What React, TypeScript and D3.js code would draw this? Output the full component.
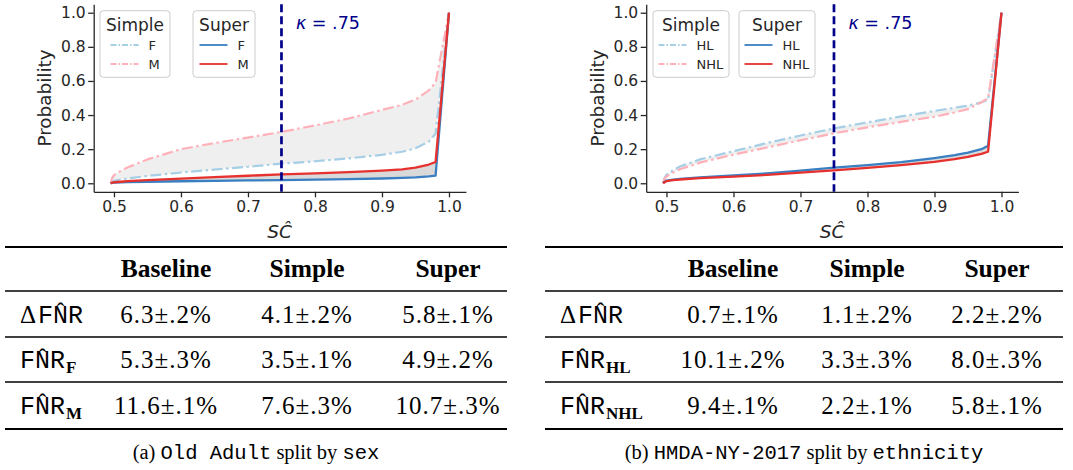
import React, { useEffect, useRef } from "react";
import * as d3 from "d3";

// ---------- data ----------
const SC_POINTS = [0.495, 0.497, 0.5, 0.51, 0.52, 0.55, 0.6, 0.65, 0.7, 0.75, 0.8, 0.85, 0.9, 0.93, 0.95, 0.97, 0.98, 1.0];
const X_TICKS = [0.5, 0.6, 0.7, 0.8, 0.9, 1.0];
const Y_TICKS = [0, 0.2, 0.4, 0.6, 0.8, 1.0];
const KAPPA = 0.75;

const ADULT_SIMPLE_F = [0, 0.008, 0.015, 0.022, 0.028, 0.043, 0.063, 0.08, 0.097, 0.115, 0.129, 0.146, 0.167, 0.185, 0.205, 0.245, 0.29, 1.0];
const ADULT_SIMPLE_M = [0, 0.028, 0.048, 0.072, 0.092, 0.14, 0.2, 0.236, 0.268, 0.301, 0.339, 0.38, 0.43, 0.46, 0.49, 0.545, 0.59, 1.0];
const ADULT_SUPER_F = [0, 0.002, 0.004, 0.006, 0.007, 0.009, 0.012, 0.014, 0.017, 0.019, 0.021, 0.024, 0.028, 0.032, 0.035, 0.041, 0.045, 1.0];
const ADULT_SUPER_M = [0, 0.003, 0.006, 0.009, 0.012, 0.018, 0.027, 0.036, 0.044, 0.052, 0.058, 0.065, 0.074, 0.082, 0.092, 0.11, 0.125, 1.0];

const HMDA_SIMPLE_HL = [0, 0.03, 0.05, 0.077, 0.098, 0.14, 0.188, 0.236, 0.28, 0.322, 0.357, 0.392, 0.424, 0.443, 0.455, 0.475, 0.488, 1.0];
const HMDA_SIMPLE_NHL = [0, 0.025, 0.04, 0.063, 0.082, 0.121, 0.168, 0.21, 0.252, 0.293, 0.328, 0.36, 0.39, 0.415, 0.435, 0.475, 0.5, 1.0];
const HMDA_SUPER_HL = [0, 0.008, 0.016, 0.022, 0.026, 0.035, 0.046, 0.058, 0.074, 0.092, 0.107, 0.124, 0.148, 0.165, 0.18, 0.2, 0.22, 1.0];
const HMDA_SUPER_NHL = [0, 0.006, 0.012, 0.018, 0.022, 0.03, 0.039, 0.049, 0.062, 0.076, 0.09, 0.106, 0.126, 0.141, 0.155, 0.172, 0.185, 1.0];

const ADULT_GROUPS = ["F", "M"];
const HMDA_GROUPS = ["HL", "NHL"];
const LEGEND_TITLES = ["Simple", "Super"];

const TABLE_COLUMNS = ["Baseline", "Simple", "Super"];
const ADULT_DELTA = ["6.3\u00b1.2%", "4.1\u00b1.2%", "5.8\u00b1.1%"];
const ADULT_FNR_F = ["5.3\u00b1.3%", "3.5\u00b1.1%", "4.9\u00b1.2%"];
const ADULT_FNR_M = ["11.6\u00b1.1%", "7.6\u00b1.3%", "10.7\u00b1.3%"];
const HMDA_DELTA = ["0.7\u00b1.1%", "1.1\u00b1.2%", "2.2\u00b1.2%"];
const HMDA_FNR_HL = ["10.1\u00b1.2%", "3.3\u00b1.3%", "8.0\u00b1.3%"];
const HMDA_FNR_NHL = ["9.4\u00b1.1%", "2.2\u00b1.1%", "5.8\u00b1.1%"];

// ---------- style ----------
const C_SIMPLE_A = "#a6cfe6";
const C_SIMPLE_B = "#ffb1b9";
const C_SUPER_A = "#3a7fc1";
const C_SUPER_B = "#e6312e";
const INK = "#262626";
const SANS = "DejaVu Sans";
const SERIF = "Liberation Serif";
const MONO = "Liberation Mono";
const DASHDOT = "11,3.5,2.5,3.5";

type LegendBox = { x: number; w: number; lineX: number };

function Chart(props: {
  x0: number;
  groups: string[];
  simpleA: number[];
  simpleB: number[];
  superA: number[];
  superB: number[];
  legends: LegendBox[];
}) {
  const { x0, groups, simpleA, simpleB, superA, superB, legends } = props;
  const x = d3.scaleLinear().domain([0.46975, 1.02525]).range([x0, x0 + 372.2]);
  const y = d3.scaleLinear().domain([-0.05, 1.05]).range([191.8, 4.2]);
  const xRef = useRef<SVGGElement>(null);
  const yRef = useRef<SVGGElement>(null);

  useEffect(() => {
    const style = (g: any) => {
      g.attr("font-family", null).attr("font-size", null);
      g.select(".domain").attr("stroke", INK).attr("stroke-width", 1.3);
      g.selectAll(".tick line").attr("stroke", INK).attr("stroke-width", 1.3);
      g.selectAll(".tick text").attr("fill", INK).attr("font-family", SANS).attr("font-size", 15.5);
    };
    const gx = d3.select(xRef.current as SVGGElement);
    gx.selectAll("*").remove();
    gx.call(
      d3.axisBottom(x).tickValues(X_TICKS).tickFormat(d3.format(".1f")).tickSize(5.5).tickPadding(3.5).tickSizeOuter(0)
    );
    style(gx);
    const gy = d3.select(yRef.current as SVGGElement);
    gy.selectAll("*").remove();
    gy.call(
      d3.axisLeft(y).tickValues(Y_TICKS).tickFormat(d3.format(".1f")).tickSize(5.5).tickPadding(2.5).tickSizeOuter(0)
    );
    style(gy);
  }, [x0]);

  const line = d3
    .line<number>()
    .x((_, i) => x(SC_POINTS[i]))
    .y((d) => y(d));
  const area = (a: number[], b: number[]) =>
    d3
      .area<number>()
      .x((_, i) => x(SC_POINTS[i]))
      .y0((d) => y(d))
      .y1((_, i) => y(b[i]))(a) || "";

  const legendEntries = [
    [
      { color: C_SIMPLE_A, dash: "6,2,1.5,2", label: groups[0] },
      { color: C_SIMPLE_B, dash: "6,2,1.5,2", label: groups[1] },
    ],
    [
      { color: C_SUPER_A, dash: undefined, label: groups[0] },
      { color: C_SUPER_B, dash: undefined, label: groups[1] },
    ],
  ];

  return (
    <g>
      <path d={area(simpleA, simpleB)} fill="#efefef" />
      <path d={area(superA, superB)} fill="#d9d9d9" />
      <path d={line(simpleA) || ""} fill="none" stroke={C_SIMPLE_A} strokeWidth={2.2} strokeDasharray={DASHDOT} strokeLinejoin="round" />
      <path d={line(simpleB) || ""} fill="none" stroke={C_SIMPLE_B} strokeWidth={2.2} strokeDasharray={DASHDOT} strokeLinejoin="round" />
      <path d={line(superA) || ""} fill="none" stroke={C_SUPER_A} strokeWidth={2.3} strokeLinejoin="round" />
      <path d={line(superB) || ""} fill="none" stroke={C_SUPER_B} strokeWidth={2.3} strokeLinejoin="round" />
      <line x1={x(KAPPA)} x2={x(KAPPA)} y1={y(1.05)} y2={y(-0.05)} stroke="#00008b" strokeWidth={2.7} strokeDasharray="8,4" />
      <g ref={xRef} transform={`translate(0,${y(-0.05)})`} />
      <g ref={yRef} transform={`translate(${x0},0)`} />
      <text x={x(KAPPA) + 14.5} y={29} fill="#00008b" fontFamily={SANS} fontSize={17.5}>
        <tspan fontStyle="italic">{"\u03ba"}</tspan>
        {" = .75"}
      </text>
      <text
        transform={`translate(${x0 - 42.5},98) rotate(-90)`}
        textAnchor="middle"
        fill={INK}
        fontFamily={SANS}
        fontSize={18.4}
      >
        Probability
      </text>
      <text x={x0 + 186} y={238} textAnchor="middle" fill={INK} fontFamily={SANS} fontSize={18.5} fontStyle="italic">
        {"SC\u0302"}
      </text>
      {legends.map((lb, li) => (
        <g key={li}>
          <rect x={lb.x} y={10.7} width={lb.w} height={66.6} rx={3.5} fill="#ffffff" fillOpacity={0.8} stroke="#cccccc" strokeWidth={1} />
          <text x={lb.x + lb.w / 2} y={30.5} textAnchor="middle" fill={INK} fontFamily={SANS} fontSize={17}>
            {LEGEND_TITLES[li]}
          </text>
          {legendEntries[li].map((e, ei) => (
            <g key={ei}>
              <line x1={lb.lineX} x2={lb.lineX + 28} y1={45 + ei * 19} y2={45 + ei * 19} stroke={e.color} strokeWidth={1.8} strokeDasharray={e.dash} />
              <text x={lb.lineX + 38} y={49.5 + ei * 19} fill={INK} fontFamily={SANS} fontSize={13}>
                {e.label}
              </text>
            </g>
          ))}
        </g>
      ))}
    </g>
  );
}

type Row = { delta: boolean; sub: string; values: string[] };

function Table(props: { x0: number; x1: number; labelX: number; cols: number[]; rows: Row[]; caption: React.ReactNode }) {
  const { x0, x1, labelX, cols, rows, caption } = props;
  const rules = [247, 291, 337, 382, 429];
  const baselines = [322.5, 368, 413.5];
  return (
    <g>
      {rules.map((r, i) => (
        <line key={i} x1={x0} x2={x1} y1={r} y2={r} stroke="#000" strokeWidth={i === 0 || i === rules.length - 1 ? 2.2 : 1.3} />
      ))}
      {TABLE_COLUMNS.map((c, i) => (
        <text key={c} x={cols[i]} y={277} textAnchor="middle" fontFamily={SERIF} fontWeight="bold" fontSize={25.5} fill="#000">
          {c}
        </text>
      ))}
      {rows.map((row, ri) => {
        const b = baselines[ri];
        return (
          <g key={ri}>
            <text x={labelX} y={b} fill="#000" fontSize={25}>
              {row.delta && <tspan fontFamily={SERIF}>{"\u0394"}</tspan>}
              <tspan fontFamily={MONO} dx={row.delta ? 2 : 0}>FN</tspan>
              <tspan fontFamily={SERIF} fontSize={24} dx={-11.5} dy={-3.5}>{"\u02c6"}</tspan>
              <tspan fontFamily={MONO} dx={3.5} dy={3.5}>R</tspan>
              {row.sub && (
                <tspan fontFamily={SERIF} fontWeight="bold" fontSize={17} dx={1} dy={5}>
                  {row.sub}
                </tspan>
              )}
            </text>
            {row.values.map((v, vi) => (
              <text key={vi} x={cols[vi]} y={b} textAnchor="middle" fontFamily={SERIF} fontSize={25} letterSpacing={1} fill="#000">
                {v}
              </text>
            ))}
          </g>
        );
      })}
      <text x={(x0 + x1) / 2} y={459} textAnchor="middle" fontSize={20.5} fill="#000" style={{ whiteSpace: "pre" }}>
        {caption}
      </text>
    </g>
  );
}

export default function App() {
  const adultRows: Row[] = [
    { delta: true, sub: "", values: ADULT_DELTA },
    { delta: false, sub: ADULT_GROUPS[0], values: ADULT_FNR_F },
    { delta: false, sub: ADULT_GROUPS[1], values: ADULT_FNR_M },
  ];
  const hmdaRows: Row[] = [
    { delta: true, sub: "", values: HMDA_DELTA },
    { delta: false, sub: HMDA_GROUPS[0], values: HMDA_FNR_HL },
    { delta: false, sub: HMDA_GROUPS[1], values: HMDA_FNR_NHL },
  ];
  return (
    <svg width={1073} height={470} style={{ position: "absolute", left: 0, top: 0, background: "#fff" }}>
      <rect width={1073} height={470} fill="#fff" />
      <Chart
        x0={93.7}
        groups={ADULT_GROUPS}
        simpleA={ADULT_SIMPLE_F}
        simpleB={ADULT_SIMPLE_M}
        superA={ADULT_SUPER_F}
        superB={ADULT_SUPER_M}
        legends={[
          { x: 100, w: 70, lineX: 110.5 },
          { x: 193, w: 62, lineX: 199.5 },
        ]}
      />
      <Chart
        x0={646.2}
        groups={HMDA_GROUPS}
        simpleA={HMDA_SIMPLE_HL}
        simpleB={HMDA_SIMPLE_NHL}
        superA={HMDA_SUPER_HL}
        superB={HMDA_SUPER_NHL}
        legends={[
          { x: 653, w: 76, lineX: 658.5 },
          { x: 739, w: 76, lineX: 744.5 },
        ]}
      />
      <Table
        x0={5}
        x1={507}
        labelX={20}
        cols={[166, 307, 448]}
        rows={adultRows}
        caption={
          <>
            <tspan fontFamily={SERIF}>{"(a) "}</tspan>
            <tspan fontFamily={MONO}>Old Adult</tspan>
            <tspan fontFamily={SERIF}>{" split by "}</tspan>
            <tspan fontFamily={MONO}>sex</tspan>
          </>
        }
      />
      <Table
        x0={545}
        x1={1063}
        labelX={560}
        cols={[733, 867, 997]}
        rows={hmdaRows}
        caption={
          <>
            <tspan fontFamily={SERIF}>{"(b) "}</tspan>
            <tspan fontFamily={MONO}>HMDA-NY-2017</tspan>
            <tspan fontFamily={SERIF}>{" split by "}</tspan>
            <tspan fontFamily={MONO}>ethnicity</tspan>
          </>
        }
      />
    </svg>
  );
}
